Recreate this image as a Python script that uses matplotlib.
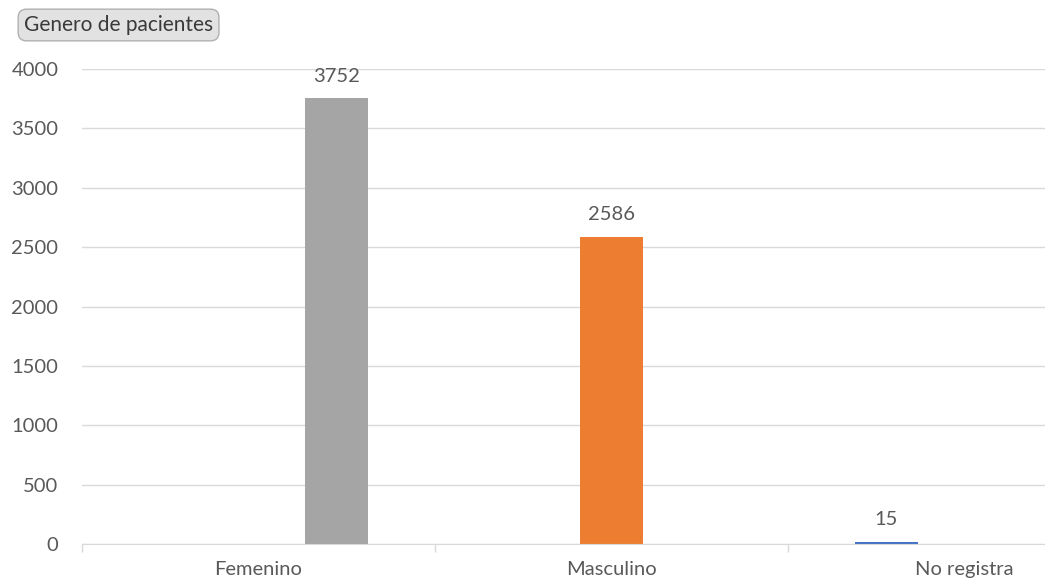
import numpy as np
import matplotlib.pyplot as plt

plt.rcParams['font.family'] = ['Lato', 'DejaVu Sans']

categorias = ['Femenino', 'Masculino', 'No registra']
# one series per category (pivot table layout), only its own cell is filled
series = ['No registra', 'Masculino', 'Femenino']
valores = {
    'No registra': [0, 0, 15],
    'Masculino': [0, 2586, 0],
    'Femenino': [3752, 0, 0],
}
colores = {'No registra': '#4472C4', 'Masculino': '#ED7D31', 'Femenino': '#A5A5A5'}

fig = plt.figure(figsize=(10.45, 5.8), dpi=100)
ax = fig.add_axes([82 / 1045, 36 / 580, 1059 / 1045, 475 / 580])

x = np.arange(len(categorias))
paso = 0.221
ancho = 0.178
texto = '#595959'
fs = 14.5

for i, s in enumerate(series):
    off = (i - 1) * paso
    vals = valores[s]
    bars = ax.bar(x + off, vals, ancho, color=colores[s], zorder=2)
    for b, v in zip(bars, vals):
        if v:
            ax.annotate(str(v), (b.get_x() + b.get_width() / 2, v),
                        xytext=(0, 10), textcoords='offset points',
                        ha='center', va='bottom', fontsize=fs, color=texto)

ax.set_xlim(-0.5, 2.5)
ax.set_ylim(0, 4000)
ax.set_yticks(np.arange(0, 4001, 500))
ax.set_xticks(x)
ax.set_xticklabels(categorias)
ax.set_xticks([-0.5, 0.5, 1.5, 2.5], minor=True)
ax.tick_params(axis='x', which='major', length=0, pad=12, labelsize=fs, colors=texto)
ax.tick_params(axis='x', which='minor', length=6, color='#D9D9D9', width=1)
ax.tick_params(axis='y', length=0, pad=17, labelsize=fs, colors=texto)

ax.grid(axis='y', color='#D9D9D9', linewidth=1, zorder=0)
for side in ['top', 'right', 'left']:
    ax.spines[side].set_visible(False)
ax.spines['bottom'].set_color('#D9D9D9')
ax.spines['bottom'].set_zorder(3)

fig.text(24 / 1045, 1 - 25 / 580, 'Genero de pacientes', fontsize=15,
         color='#3A3A3A', ha='left', va='center',
         bbox=dict(boxstyle='round,pad=0.28,rounding_size=0.4',
                   facecolor='#E2E2E2', edgecolor='#B0B0B0', linewidth=1))

fig.savefig('out.png', dpi=100)
